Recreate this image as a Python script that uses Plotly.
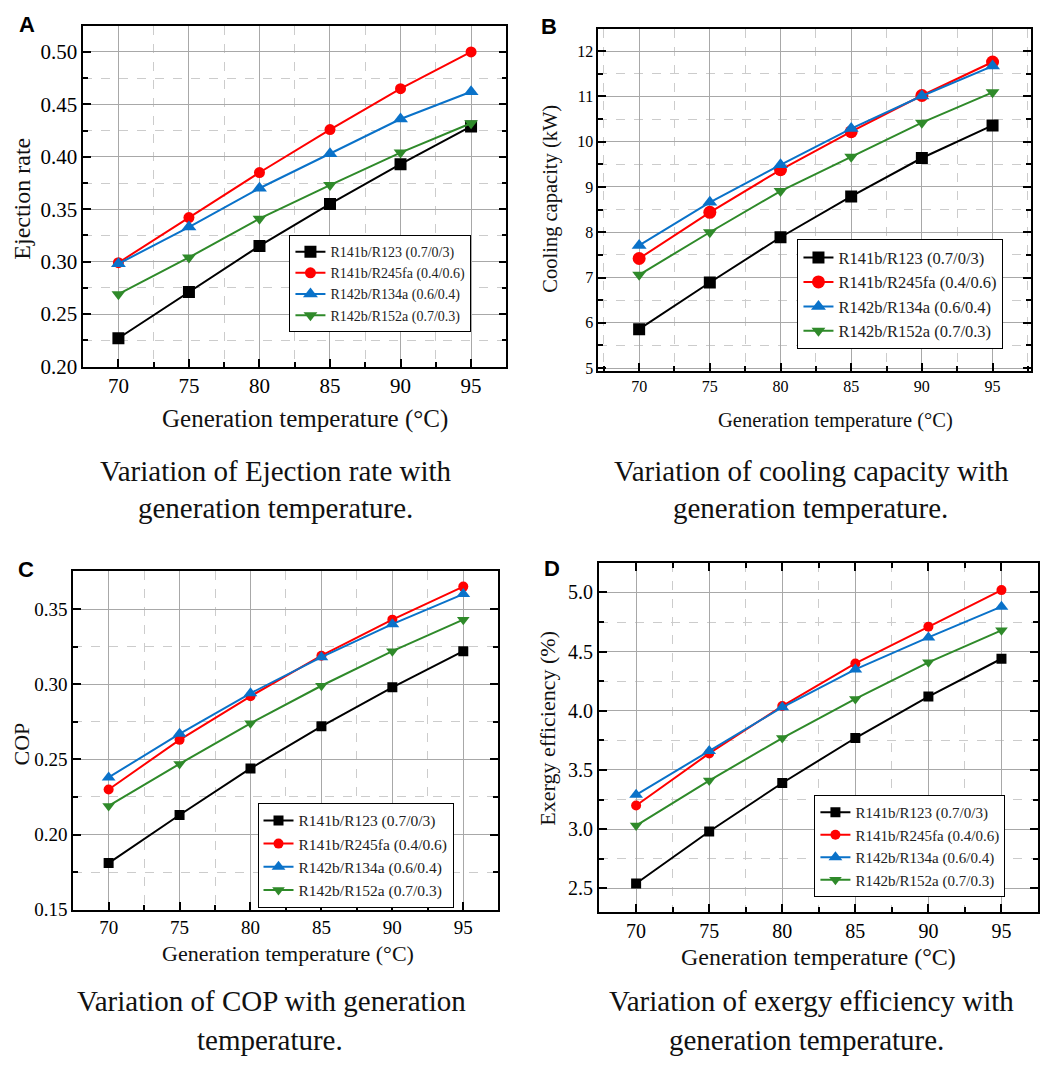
import plotly.graph_objects as go

# Generation temperature (°C)
temps = [70, 75, 80, 85, 90, 95]

series_names = [
    "R141b/R123 (0.7/0/3)",
    "R141b/R245fa (0.4/0.6)",
    "R142b/R134a (0.6/0.4)",
    "R142b/R152a (0.7/0.3)",
]

# (A) Ejection rate
ejection_r141b_r123 = [0.227, 0.271, 0.315, 0.355, 0.393, 0.429]
ejection_r141b_r245fa = [0.299, 0.342, 0.385, 0.426, 0.465, 0.500]
ejection_r142b_r134a = [0.298, 0.333, 0.370, 0.403, 0.436, 0.462]
ejection_r142b_r152a = [0.269, 0.304, 0.341, 0.373, 0.404, 0.432]

# (B) Cooling capacity (kW)
cooling_r141b_r123 = [5.86, 6.89, 7.89, 8.79, 9.64, 10.36]
cooling_r141b_r245fa = [7.42, 8.44, 9.38, 10.22, 11.02, 11.76]
cooling_r142b_r134a = [7.71, 8.66, 9.49, 10.29, 11.01, 11.67]
cooling_r142b_r152a = [7.06, 8.00, 8.91, 9.67, 10.42, 11.09]

# (C) COP
cop_r141b_r123 = [0.181, 0.213, 0.244, 0.272, 0.298, 0.322]
cop_r141b_r245fa = [0.230, 0.263, 0.292, 0.319, 0.343, 0.365]
cop_r142b_r134a = [0.238, 0.267, 0.294, 0.318, 0.340, 0.360]
cop_r142b_r152a = [0.219, 0.247, 0.274, 0.299, 0.322, 0.343]

# (D) Exergy efficiency (%)
exergy_r141b_r123 = [2.54, 2.98, 3.39, 3.77, 4.12, 4.44]
exergy_r141b_r245fa = [3.20, 3.64, 4.04, 4.40, 4.71, 5.02]
exergy_r142b_r134a = [3.29, 3.66, 4.03, 4.35, 4.62, 4.88]
exergy_r142b_r152a = [3.03, 3.41, 3.77, 4.10, 4.41, 4.68]

W, H = 1040, 1068
SERIF = "Liberation Serif"
SANS = "Liberation Sans"

colors = ["#000000", "#ff0000", "#0a72c9", "#2f8a2a"]
symbols = ["square", "circle", "triangle-up", "triangle-down"]


def px_x(v):
    return v / W


def px_y(v):
    return 1 - v / H


panels = [
    dict(key="", letter="A", data=[ejection_r141b_r123, ejection_r141b_r245fa,
                                   ejection_r142b_r134a, ejection_r142b_r152a],
         box=(83.3, 26, 507.3, 370.7), xr=[67.5, 97.5], yr=[0.20, 0.525],
         dy=0.05, fmt=".2f", tick=21, msize=[12, 11, 13, 12],
         xtitle=(305.5, 424, 25), ytitle=("Ejection rate", 22, 201, 24),
         legend=(290, 237.7, 14), topticks=False, letterpos=(27, 25),
         caption=[("Variation of Ejection rate with", 277, 476),
                  ("generation temperature.", 276, 514)]),
    dict(key="2", letter="B", data=[cooling_r141b_r123, cooling_r141b_r245fa,
                                    cooling_r142b_r134a, cooling_r142b_r152a],
         box=(599.3, 29.3, 1032.7, 375), xr=[67.1, 97.7], yr=[4.94, 12.49],
         dy=1, fmt="d", tick=16, msize=[12, 13, 13, 12],
         xtitle=(837, 425, 20.5), ytitle=("Cooling capacity (kW)", 552, 201, 20.5),
         legend=(799, 242, 16.5), topticks=False, letterpos=(550.5, 27),
         caption=[("Variation of cooling capacity with", 813, 476),
                  ("generation temperature.", 812, 514)]),
    dict(key="3", letter="C", data=[cop_r141b_r123, cop_r141b_r245fa,
                                    cop_r142b_r134a, cop_r142b_r152a],
         box=(73.3, 577.3, 499, 920), xr=[67.5, 97.45], yr=[0.15, 0.3755],
         dy=0.05, fmt=".2f", tick=19, msize=[10, 10, 12, 11],
         xtitle=(289, 964, 22), ytitle=("COP", 22, 752, 22),
         legend=(258, 812, 15.5), topticks=False, letterpos=(26.5, 575.5),
         caption=[("Variation of COP with generation", 272, 1012),
                  ("temperature.", 271, 1052)]),
    dict(key="4", letter="D", data=[exergy_r141b_r123, exergy_r141b_r245fa,
                                    exergy_r142b_r134a, exergy_r142b_r152a],
         box=(600, 569.3, 1040, 922.3), xr=[67.45, 97.5], yr=[2.3, 5.25],
         dy=0.5, fmt=".1f", tick=20, msize=[10, 10, 12, 11],
         xtitle=(820, 968, 24), ytitle=("Exergy efficiency (%)", 549, 736, 22),
         legend=(816, 804, 15), topticks=True, letterpos=(553.5, 575),
         caption=[("Variation of exergy efficiency with", 813, 1012),
                  ("generation temperature.", 808, 1052)]),
]

fig = go.Figure()
layout = dict(
    width=W, height=H, margin=dict(l=0, r=0, t=0, b=0),
    paper_bgcolor="white", plot_bgcolor="white",
    font=dict(family=SERIF, color="black"),
    showlegend=True,
)
annotations = []

for i, p in enumerate(panels):
    k = p["key"]
    legend_id = "legend" if i == 0 else f"legend{i + 1}"
    for j in range(4):
        fig.add_trace(go.Scatter(
            x=temps, y=p["data"][j], name=series_names[j],
            mode="lines+markers",
            line=dict(color=colors[j], width=2),
            marker=dict(symbol=symbols[j], size=p["msize"][j], color=colors[j]),
            xaxis="x" + k, yaxis="y" + k, legend=legend_id,
        ))

    x0, y0, x1, y1 = p["box"]
    common = dict(
        showline=True, linecolor="black", linewidth=1.5,
        ticks="inside", ticklen=8, tickwidth=1.5, tickcolor="black",
        zeroline=False, showgrid=True, gridcolor="#a8a8a8", gridwidth=1,
    )
    minor_style = dict(ticks="inside", ticklen=5, tickcolor="black",
                       showgrid=True, gridcolor="#cccccc", griddash="dash",
                       gridwidth=1)
    layout["xaxis" + k] = dict(
        domain=[px_x(x0), px_x(x1)], range=p["xr"], anchor="y" + k,
        tick0=70, dtick=5,
        mirror="ticks" if p["topticks"] else True,
        tickfont=dict(family=SERIF, size=p["tick"]),
        minor=dict(dtick=2.5, **minor_style),
        **common,
    )
    layout["yaxis" + k] = dict(
        domain=[px_y(y1), px_y(y0)], range=p["yr"], anchor="x" + k,
        dtick=p["dy"], tick0=0, tickformat=p["fmt"], mirror="ticks",
        tickfont=dict(family=SERIF, size=p["tick"]),
        minor=dict(dtick=p["dy"] / 2, **minor_style),
        **common,
    )

    lx, ly, lf = p["legend"]
    layout[legend_id] = dict(
        x=px_x(lx), y=px_y(ly), xanchor="left", yanchor="top",
        bgcolor="white", bordercolor="black", borderwidth=1,
        font=dict(family=SERIF, size=lf, color="#222222"),
        tracegroupgap=0,
    )

    # axis titles
    tx, ty, tf = p["xtitle"]
    annotations.append(dict(
        text="Generation temperature (°C)", x=px_x(tx), y=px_y(ty),
        xref="paper", yref="paper", showarrow=False,
        font=dict(family=SERIF, size=tf, color="#111111"),
        xanchor="center", yanchor="middle"))
    yt, yx, yy, yf = p["ytitle"]
    annotations.append(dict(
        text=yt, x=px_x(yx), y=px_y(yy), xref="paper", yref="paper",
        showarrow=False, textangle=-90,
        font=dict(family=SERIF, size=yf, color="#111111"),
        xanchor="center", yanchor="middle"))

    # panel letter
    lpx, lpy = p["letterpos"]
    annotations.append(dict(
        text="<b>%s</b>" % p["letter"], x=px_x(lpx), y=px_y(lpy),
        xref="paper", yref="paper", showarrow=False,
        font=dict(family=SANS, size=22, color="black"),
        xanchor="center", yanchor="middle"))

    # caption below the panel
    for text, cx, cy in p["caption"]:
        annotations.append(dict(
            text=text, x=px_x(cx), y=px_y(cy), xref="paper", yref="paper",
            showarrow=False, font=dict(family=SERIF, size=29, color="#111111"),
            xanchor="center", yanchor="middle"))

layout["annotations"] = annotations
fig.update_layout(**layout)
fig.write_html("out.html")
